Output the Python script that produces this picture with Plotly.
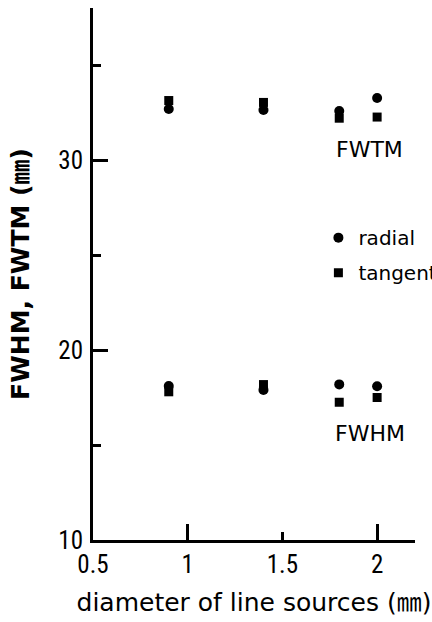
import plotly.graph_objects as go

diameters = [0.9, 1.4, 1.8, 2.0]
fwtm_radial = [32.68, 32.63, 32.58, 33.26]
fwtm_tangential = [33.13, 33.03, 32.2, 32.26]
fwhm_radial = [18.1, 17.9, 18.19, 18.09]
fwhm_tangential = [17.8, 18.18, 17.25, 17.5]

x_tickvals = [0.5, 1, 1.5, 2]
x_ticktext = ["0.5", "1", "1.5", "2"]
x_major = [1, 2]
y_tickvals = [10, 20, 30]
y_minor = [15, 25, 35]

TICKFONT = dict(family="Liberation Sans Narrow, Roboto Condensed, Roboto, sans-serif", size=25, color="black")
TXT = "DejaVu Sans, Noto Sans CJK JP, sans-serif"

fig = go.Figure()
fig.add_trace(go.Scatter(x=diameters, y=fwtm_radial, mode="markers", name="radial",
                         legendgroup="r", marker=dict(symbol="circle", size=10, color="black")))
fig.add_trace(go.Scatter(x=diameters, y=fwhm_radial, mode="markers", name="radial",
                         legendgroup="r", showlegend=False, xaxis="x2",
                         marker=dict(symbol="circle", size=10, color="black")))
fig.add_trace(go.Scatter(x=diameters, y=fwtm_tangential, mode="markers", name="tangential",
                         legendgroup="t", marker=dict(symbol="square", size=9, color="black")))
fig.add_trace(go.Scatter(x=diameters, y=fwhm_tangential, mode="markers", name="tangential",
                         legendgroup="t", showlegend=False, xaxis="x2",
                         marker=dict(symbol="square", size=9, color="black")))

fig.update_layout(
    width=432, height=622,
    margin=dict(l=93, r=17, t=8, b=82, autoexpand=False),
    paper_bgcolor="white", plot_bgcolor="white",
    showlegend=True,
    legend=dict(x=0.70, y=0.605, xanchor="left", yanchor="top",
                font=dict(family=TXT, size=20, color="black"),
                traceorder="grouped", tracegroupgap=6, bgcolor="rgba(0,0,0,0)",
                itemsizing="trace"),
    xaxis=dict(range=[0.5, 2.2], tickvals=x_tickvals, ticktext=x_ticktext,
               ticks="inside", ticklen=8, tickwidth=2.5, tickcolor="black",
               showline=True, linewidth=3, linecolor="black", showgrid=False, zeroline=False,
               tickfont=TICKFONT, ticklabelstandoff=0,
               title=dict(text="diameter of line sources (㎜)", font=dict(family=TXT, size=25, color="black"),
                          standoff=16)),
    xaxis2=dict(range=[0.5, 2.2], overlaying="x", anchor="y", side="bottom", tickvals=x_major,
                ticks="inside", ticklen=16, tickwidth=2.5, tickcolor="black",
                showticklabels=False, showgrid=False, zeroline=False, showline=False),
    yaxis=dict(range=[10, 38], tickvals=y_tickvals,
               ticks="inside", ticklen=15, tickwidth=2.5, tickcolor="black",
               minor=dict(tickvals=y_minor, ticks="inside", ticklen=8, tickwidth=2.5, tickcolor="black"),
               showline=True, linewidth=3, linecolor="black", showgrid=False, zeroline=False,
               tickfont=TICKFONT, ticklabelstandoff=2,
               title=dict(text="<b>FWHM, FWTM (㎜)</b>", font=dict(family=TXT, size=25, color="black"),
                          standoff=22)),
    annotations=[
        dict(x=1.962, y=30.53, xref="x", yref="y", text="FWTM", showarrow=False,
             font=dict(family=TXT, size=22, color="black")),
        dict(x=1.962, y=15.58, xref="x", yref="y", text="FWHM", showarrow=False,
             font=dict(family=TXT, size=22, color="black")),
    ],
)

fig.write_html("out.html")
